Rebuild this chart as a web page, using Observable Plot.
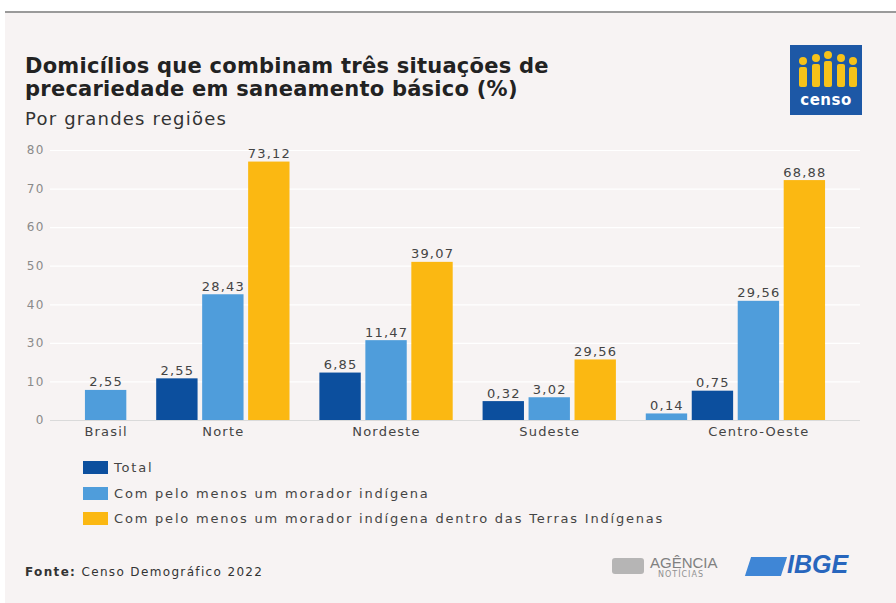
<!DOCTYPE html>
<html><head><meta charset="utf-8">
<script src="https://cdn.jsdelivr.net/npm/d3@7"></script>
<script src="https://cdn.jsdelivr.net/npm/@observablehq/plot@0.6"></script>
<style>
body{margin:0;width:896px;height:603px;background:#fff;position:relative;overflow:hidden;font-family:"DejaVu Sans",sans-serif;}
#panel{position:absolute;left:5px;top:11px;width:891px;height:592px;background:#f7f3f3;border-top:2px solid #9a9a9a;}
#title{position:absolute;left:25px;top:55px;font-size:21px;line-height:22.5px;font-weight:700;color:#222;letter-spacing:0.25px;}
#subtitle{position:absolute;left:25px;top:110px;font-size:18px;line-height:18px;color:#333;letter-spacing:1.2px;}
#chart{position:absolute;left:0;top:140px;}
#legend{position:absolute;left:83px;top:455px;font-size:13px;color:#444;letter-spacing:1.8px;}
#legend .row{display:flex;align-items:center;height:25.5px;}
#legend .sw{width:25px;height:13px;margin-right:6px;}
#source{position:absolute;left:25px;top:565px;font-size:12px;color:#333;letter-spacing:1.35px;}
#logo{position:absolute;left:790px;top:45px;width:72px;height:70px;background:#1d58a6;}
#logo .fig{position:absolute;width:8px;background:#f6c21a;border-radius:2px;}
#logo .head{position:absolute;width:8px;height:8px;border-radius:50%;background:#f6c21a;}
#logo .word{position:absolute;left:0;width:72px;top:48px;text-align:center;color:#fff;font-size:15px;font-weight:700;letter-spacing:0.5px;line-height:15px;}
#agencia{position:absolute;left:650px;top:555px;color:#808080;font-size:15px;line-height:15px;font-family:"Liberation Sans Narrow","Liberation Sans",sans-serif;}
#noticias{position:absolute;left:658px;top:571px;color:#909090;font-size:8px;line-height:8px;letter-spacing:1px;}
#agicon{position:absolute;left:612px;top:558px;width:32px;height:16px;background:#9a9a9a;border-radius:3px;opacity:0.7;}
#ibgeicon{position:absolute;left:748px;top:557px;width:36px;height:19px;background:#3f86d6;transform:skewX(-18deg);}
#ibge{position:absolute;left:787px;top:552px;font-size:25px;line-height:25px;font-weight:800;font-style:italic;color:#2866bd;font-family:"Liberation Sans",sans-serif;}
</style></head>
<body>
<div id="panel"></div>
<div id="title">Domicílios que combinam três situações de<br>precariedade em saneamento básico (%)</div>
<div id="subtitle">Por grandes regiões</div>
<div id="logo"></div>
<div id="chart"></div>
<div id="legend"></div>
<div id="source"><b>Fonte:</b> Censo Demográfico 2022</div>
<div id="agicon"></div>
<div id="agencia">AGÊNCIA</div>
<div id="noticias">NOTÍCIAS</div>
<div id="ibgeicon"></div>
<div id="ibge">IBGE</div>
<script>
const regions = ["Brasil", "Norte", "Nordeste", "Sudeste", "Centro-Oeste"];
const seriesNames = ["Total", "Com pelo menos um morador indígena", "Com pelo menos um morador indígena dentro das Terras Indígenas"];
const seriesColors = ["#0c4f9e", "#4f9ddb", "#fbb812"];
// bars in drawing order
const barRegion = ["Brasil", "Norte", "Norte", "Norte", "Nordeste", "Nordeste", "Nordeste", "Sudeste", "Sudeste", "Sudeste", "Centro-Oeste", "Centro-Oeste", "Centro-Oeste", "Centro-Oeste"];
const barSeries = [1, 0, 1, 2, 0, 1, 2, 0, 1, 2, 1, 0, 1, 2];
// bar heights as drawn, in grid steps of the axis
const barHeight = [7.8, 10.8, 32.6, 67.0, 12.3, 20.7, 41.0, 4.9, 5.9, 15.7, 1.7, 7.6, 30.9, 62.2];
// value labels printed above the bars
const barLabel = ["2,55", "2,55", "28,43", "73,12", "6,85", "11,47", "39,07", "0,32", "3,02", "29,56", "0,14", "0,75", "29,56", "68,88"];
// axis tick labels as printed (evenly spaced)
const yTicks = [0, 10, 20, 30, 40, 50, 60, 70];
const yTickLabels = ["0", "10", "30", "40", "50", "60", "70", "80"];

const groupGap = 0.55;
const bars = barRegion.map((r, i) => ({
  region: r, series: seriesNames[barSeries[i]], h: barHeight[i], label: barLabel[i],
  pos: i + regions.indexOf(r) * groupGap
}));
// region label centred under the (up to) three main bars of each group
const groups = regions.map(r => ({region: r, pos: d3.mean(bars.filter(b => b.region === r).slice(-3), b => b.pos)}));

const chart = Plot.plot({
  width: 896, height: 310,
  marginLeft: 50, marginRight: 36, marginTop: 10, marginBottom: 30,
  style: {background: "transparent", fontFamily: "DejaVu Sans, sans-serif", letterSpacing: "1.2px"},
  x: {domain: [-1.21, 16.41], axis: null},
  y: {domain: [0, 70], axis: null},
  color: {domain: seriesNames, range: seriesColors},
  marks: [
    Plot.gridY(yTicks, {stroke: "#ffffff", strokeOpacity: 1, strokeWidth: 1.2}),
    Plot.axisY(yTicks, {tickSize: 0, tickPadding: 6, tickFormat: d => yTickLabels[yTicks.indexOf(d)], fill: "#8a8a8a", fontSize: 12, label: null}),
    Plot.ruleY([0], {stroke: "#dadada"}),
    Plot.rect(bars, {x1: d => d.pos - 0.45, x2: d => d.pos + 0.45, y1: d => 0, y2: "h", fill: "series"}),
    Plot.text(bars, {x: "pos", y: "h", text: "label", dy: -4, lineAnchor: "bottom", fontSize: 13, fill: "#444"}),
    Plot.text(groups, {x: "pos", y: d => 0, text: "region", dy: 6, lineAnchor: "top", fontSize: 13, fill: "#444"})
  ]
});
document.getElementById("chart").appendChild(chart);

const legend = document.getElementById("legend");
seriesNames.forEach((s, i) => {
  const row = document.createElement("div");
  row.className = "row";
  row.innerHTML = `<div class="sw" style="background:${seriesColors[i]}"></div><span>${s}</span>`;
  legend.appendChild(row);
});

// decorative censo logo
const logo = document.getElementById("logo");
for (let k = 0; k < 5; k++) {
  const cx = 9 + k * 12.5;
  const top = k === 2 ? 6 : (k === 1 || k === 3 ? 9 : 12);
  logo.insertAdjacentHTML("beforeend",
    `<div class="head" style="left:${cx}px;top:${top}px"></div><div class="fig" style="left:${cx}px;top:${top + 10}px;height:${38 - top - 6}px"></div>`);
}
logo.insertAdjacentHTML("beforeend", `<div class="word">censo</div>`);
</script>
</body></html>
